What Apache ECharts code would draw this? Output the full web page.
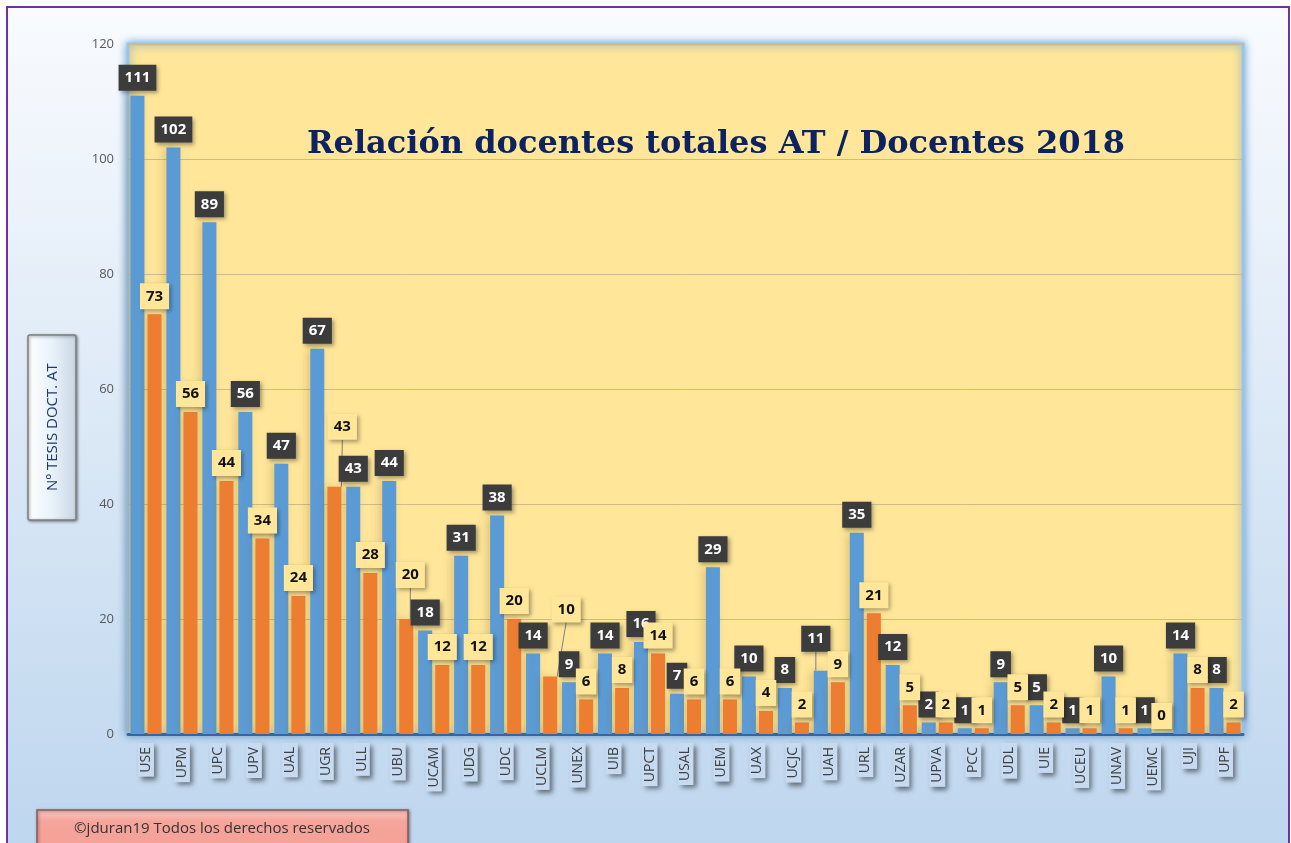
<!DOCTYPE html>
<html>
<head>
<meta charset="utf-8">
<script src="https://cdn.jsdelivr.net/npm/echarts@6/dist/echarts.min.js"></script>
<style>
  html, body { margin: 0; padding: 0; background: #fff; }
  #chart { width: 1291px; height: 843px; }
</style>
</head>
<body>
<div id="chart"></div>
<script>
// universidades
const categories = ['USE', 'UPM', 'UPC', 'UPV', 'UAL', 'UGR', 'ULL', 'UBU', 'UCAM', 'UDG', 'UDC',
  'UCLM', 'UNEX', 'UIB', 'UPCT', 'USAL', 'UEM', 'UAX', 'UCJC', 'UAH', 'URL', 'UZAR', 'UPVA',
  'PCC', 'UDL', 'UIE', 'UCEU', 'UNAV', 'UEMC', 'UJI', 'UPF'];
// docentes totales AT
const totales = [111, 102, 89, 56, 47, 67, 43, 44, 18, 31, 38, 14, 9, 14, 16, 7, 29, 10, 8, 11, 35,
  12, 2, 1, 9, 5, 1, 10, 1, 14, 8];
// docentes 2018
const docentes = [73, 56, 44, 34, 24, 43, 28, 20, 12, 12, 20, 10, 6, 8, 14, 6, 6, 4, 2, 9, 21,
  5, 2, 1, 5, 2, 1, 1, 0, 8, 2];

const yTicks = { min: 0, max: 120, interval: 20 };

// etiquetas desplazadas con linea guia (como en el original)
const nudgeTotales = { 19: [-5, -14] };
const nudgeDocentes = { 5: [8, -42], 7: [4, -26], 11: [16, -49] };

const chart = echarts.init(document.getElementById('chart'));

function layoutFor(nudges) {
  return function (p) {
    const n = nudges[p.dataIndex];
    if (!n) return {};
    return { dx: n[0], dy: n[1] };
  };
}

function withLines(values, nudges) {
  return values.map((v, i) => nudges[i] ? { value: v, labelLine: { show: true } } : v);
}

const labelBase = {
  show: true,
  position: 'top',
  distance: 5,
  fontFamily: 'Open Sans',
  fontWeight: 'bold',
  fontSize: 15,
  lineHeight: 18,
  padding: [4, 6, 4, 6],
  shadowBlur: 4,
  shadowOffsetX: 2,
  shadowOffsetY: 2,
  shadowColor: 'rgba(0,0,0,0.35)'
};

const option = {
  animation: false,
  backgroundColor: '#fff',
  graphic: [
    {
      type: 'rect', z: -10, silent: true,
      shape: { x: 7, y: 7, width: 1282, height: 860 },
      style: {
        fill: new echarts.graphic.LinearGradient(0, 0, 0, 1, [
          { offset: 0, color: '#F9FBFE' },
          { offset: 1, color: '#BCD5EE' }
        ]),
        stroke: '#7030A0', lineWidth: 2
      }
    },
    {
      type: 'text', z: 10,
      x: 716, y: 145,
      style: {
        text: 'Relación docentes totales AT / Docentes 2018',
        fill: '#0D2361',
        font: 'bold 32px "DejaVu Serif"',
        align: 'center', verticalAlign: 'middle'
      }
    },
    {
      type: 'group', x: 28, y: 335,
      children: [
        {
          type: 'rect',
          shape: { x: 0, y: 0, width: 48, height: 185, r: 2 },
          style: {
            fill: new echarts.graphic.LinearGradient(0, 0, 1, 0, [
              { offset: 0, color: '#FFFFFF' },
              { offset: 0.5, color: '#E8F2FB' },
              { offset: 1, color: '#C9D6E3' }
            ]),
            stroke: '#7F7F7F', lineWidth: 1.5,
            shadowBlur: 3, shadowOffsetX: 1, shadowOffsetY: 1, shadowColor: 'rgba(0,0,0,0.4)'
          }
        },
        {
          type: 'text', x: 25, y: 92, rotation: Math.PI / 2,
          style: {
            text: 'Nº TESIS DOCT. AT', fill: '#1F3864',
            font: '15px "Open Sans"', align: 'center', verticalAlign: 'middle'
          }
        }
      ]
    },
    {
      type: 'group', x: 37, y: 810,
      children: [
        {
          type: 'rect',
          shape: { x: 0, y: 0, width: 371, height: 38 },
          style: {
            fill: new echarts.graphic.LinearGradient(0, 0, 0, 1, [
              { offset: 0, color: '#FBC9C3' },
              { offset: 0.3, color: '#F6A59C' },
              { offset: 1, color: '#F4A097' }
            ]),
            stroke: '#8C5A55', lineWidth: 1.5,
            shadowBlur: 3, shadowOffsetX: 1, shadowOffsetY: 1, shadowColor: 'rgba(0,0,0,0.4)'
          }
        },
        {
          type: 'text', x: 185, y: 19,
          style: {
            text: '©jduran19 Todos los derechos reservados', fill: '#333',
            font: '15px "Open Sans"', align: 'center', verticalAlign: 'middle'
          }
        }
      ]
    }
  ],
  grid: {
    left: 128, right: 48, top: 44, bottom: 109,
    show: true,
    backgroundColor: '#FFE699',
    borderColor: '#9DC3E6',
    borderWidth: 3,
    shadowBlur: 8,
    shadowColor: 'rgba(91,155,213,0.9)'
  },
  xAxis: {
    type: 'category',
    data: categories,
    axisLine: { lineStyle: { color: '#2E66B0', width: 3 } },
    axisTick: { show: false },
    axisLabel: {
      rotate: 90,
      interval: 0,
      margin: 9,
      color: '#404040',
      fontFamily: 'Open Sans',
      fontSize: 14,
      backgroundColor: '#C6DAF1',
      padding: [1, 4, 1, 4],
      shadowBlur: 5,
      shadowOffsetX: 3,
      shadowOffsetY: 3,
      shadowColor: 'rgba(0,0,0,0.5)'
    }
  },
  yAxis: {
    type: 'value',
    min: yTicks.min, max: yTicks.max, interval: yTicks.interval,
    axisLine: { show: false },
    axisTick: { show: false },
    axisLabel: { color: '#595959', fontFamily: 'Open Sans', fontSize: 13, margin: 14 },
    splitLine: { lineStyle: { color: '#CDBB8C', width: 1 } }
  },
  series: [
    {
      name: 'Totales AT',
      type: 'bar',
      data: withLines(totales, nudgeTotales),
      barWidth: 14,
      barGap: '22%',
      itemStyle: {
        color: '#5B9BD5',
        shadowBlur: 10, shadowOffsetX: -3, shadowColor: 'rgba(120,90,20,0.25)'
      },
      label: Object.assign({}, labelBase, { color: '#fff', backgroundColor: '#3C3C3C' }),
      labelLine: { show: false, lineStyle: { color: '#7F7F7F', width: 1 } },
      labelLayout: layoutFor(nudgeTotales)
    },
    {
      name: 'Docentes 2018',
      type: 'bar',
      data: withLines(docentes, nudgeDocentes),
      barWidth: 14,
      itemStyle: {
        color: '#ED7D31',
        shadowBlur: 10, shadowOffsetX: -3, shadowColor: 'rgba(120,90,20,0.25)'
      },
      label: Object.assign({}, labelBase, { color: '#111', backgroundColor: '#FFE699' }),
      labelLine: { show: false, lineStyle: { color: '#7F7F7F', width: 1 } },
      labelLayout: layoutFor(nudgeDocentes)
    }
  ]
};

chart.setOption(option);
</script>
</body>
</html>
